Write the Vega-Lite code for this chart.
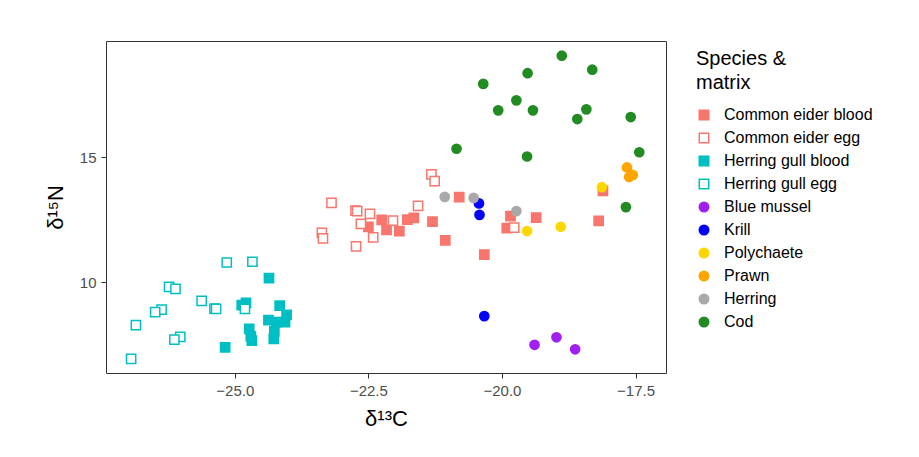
{
  "$schema": "https://vega.github.io/schema/vega-lite/v6.json",
  "width": 560,
  "height": 332,
  "autosize": "none",
  "padding": {"left": 106, "top": 41, "right": 253, "bottom": 84},
  "background": "white",
  "data": {
    "values": [
      {"group": "Common eider blood", "c": -20.80, "n": 13.41},
      {"group": "Common eider blood", "c": -21.30, "n": 12.43},
      {"group": "Common eider blood", "c": -21.06, "n": 11.68},
      {"group": "Common eider blood", "c": -20.33, "n": 11.11},
      {"group": "Common eider blood", "c": -19.84, "n": 12.65},
      {"group": "Common eider blood", "c": -19.91, "n": 12.17},
      {"group": "Common eider blood", "c": -19.36, "n": 12.59},
      {"group": "Common eider blood", "c": -18.11, "n": 13.66},
      {"group": "Common eider blood", "c": -18.19, "n": 12.46},
      {"group": "Common eider blood", "c": -22.25, "n": 12.50},
      {"group": "Common eider blood", "c": -22.50, "n": 12.22},
      {"group": "Common eider blood", "c": -22.16, "n": 12.10},
      {"group": "Common eider blood", "c": -21.92, "n": 12.05},
      {"group": "Common eider blood", "c": -21.77, "n": 12.51},
      {"group": "Common eider blood", "c": -21.65, "n": 12.58},
      {"group": "Common eider egg", "c": -21.32, "n": 14.32},
      {"group": "Common eider egg", "c": -21.26, "n": 14.05},
      {"group": "Common eider egg", "c": -23.19, "n": 13.18},
      {"group": "Common eider egg", "c": -22.74, "n": 12.87},
      {"group": "Common eider egg", "c": -22.71, "n": 12.85},
      {"group": "Common eider egg", "c": -22.47, "n": 12.74},
      {"group": "Common eider egg", "c": -22.64, "n": 12.34},
      {"group": "Common eider egg", "c": -22.41, "n": 11.80},
      {"group": "Common eider egg", "c": -22.73, "n": 11.44},
      {"group": "Common eider egg", "c": -23.37, "n": 11.98},
      {"group": "Common eider egg", "c": -23.35, "n": 11.76},
      {"group": "Common eider egg", "c": -22.04, "n": 12.47},
      {"group": "Common eider egg", "c": -21.57, "n": 13.06},
      {"group": "Common eider egg", "c": -19.77, "n": 12.19},
      {"group": "Herring gull blood", "c": -24.36, "n": 10.16},
      {"group": "Herring gull blood", "c": -24.87, "n": 9.08},
      {"group": "Herring gull blood", "c": -24.79, "n": 9.17},
      {"group": "Herring gull blood", "c": -24.16, "n": 9.06},
      {"group": "Herring gull blood", "c": -24.03, "n": 8.69},
      {"group": "Herring gull blood", "c": -24.37, "n": 8.48},
      {"group": "Herring gull blood", "c": -24.22, "n": 8.40},
      {"group": "Herring gull blood", "c": -24.06, "n": 8.40},
      {"group": "Herring gull blood", "c": -24.73, "n": 8.13},
      {"group": "Herring gull blood", "c": -24.70, "n": 7.83},
      {"group": "Herring gull blood", "c": -24.68, "n": 7.66},
      {"group": "Herring gull blood", "c": -24.26, "n": 8.03},
      {"group": "Herring gull blood", "c": -24.27, "n": 7.73},
      {"group": "Herring gull blood", "c": -25.18, "n": 7.39},
      {"group": "Herring gull egg", "c": -25.15, "n": 10.79},
      {"group": "Herring gull egg", "c": -24.67, "n": 10.82},
      {"group": "Herring gull egg", "c": -26.23, "n": 9.81},
      {"group": "Herring gull egg", "c": -26.11, "n": 9.73},
      {"group": "Herring gull egg", "c": -26.37, "n": 8.90},
      {"group": "Herring gull egg", "c": -26.49, "n": 8.80},
      {"group": "Herring gull egg", "c": -25.62, "n": 9.25},
      {"group": "Herring gull egg", "c": -25.38, "n": 8.94},
      {"group": "Herring gull egg", "c": -25.35, "n": 8.93},
      {"group": "Herring gull egg", "c": -24.81, "n": 8.93},
      {"group": "Herring gull egg", "c": -26.85, "n": 8.28},
      {"group": "Herring gull egg", "c": -26.02, "n": 7.81},
      {"group": "Herring gull egg", "c": -26.13, "n": 7.70},
      {"group": "Herring gull egg", "c": -26.94, "n": 6.93},
      {"group": "Blue mussel", "c": -19.39, "n": 7.49},
      {"group": "Blue mussel", "c": -18.98, "n": 7.79},
      {"group": "Blue mussel", "c": -18.63, "n": 7.31},
      {"group": "Krill", "c": -20.43, "n": 13.16},
      {"group": "Krill", "c": -20.42, "n": 12.70},
      {"group": "Krill", "c": -20.33, "n": 8.64},
      {"group": "Polychaete", "c": -19.53, "n": 12.05},
      {"group": "Polychaete", "c": -18.90, "n": 12.22},
      {"group": "Polychaete", "c": -18.13, "n": 13.81},
      {"group": "Prawn", "c": -17.66, "n": 14.60},
      {"group": "Prawn", "c": -17.62, "n": 14.22},
      {"group": "Prawn", "c": -17.55, "n": 14.30},
      {"group": "Herring", "c": -21.07, "n": 13.42},
      {"group": "Herring", "c": -20.53, "n": 13.38},
      {"group": "Herring", "c": -19.73, "n": 12.85},
      {"group": "Cod", "c": -18.88, "n": 19.08},
      {"group": "Cod", "c": -18.31, "n": 18.52},
      {"group": "Cod", "c": -19.52, "n": 18.38},
      {"group": "Cod", "c": -20.35, "n": 17.95},
      {"group": "Cod", "c": -19.73, "n": 17.29},
      {"group": "Cod", "c": -20.07, "n": 16.89},
      {"group": "Cod", "c": -19.42, "n": 16.89},
      {"group": "Cod", "c": -18.42, "n": 16.93},
      {"group": "Cod", "c": -18.59, "n": 16.54},
      {"group": "Cod", "c": -17.59, "n": 16.62},
      {"group": "Cod", "c": -20.85, "n": 15.35},
      {"group": "Cod", "c": -19.53, "n": 15.04},
      {"group": "Cod", "c": -17.43, "n": 15.21},
      {"group": "Cod", "c": -17.68, "n": 13.01}
    ]
  },
  "mark": {"type": "point", "size": 85, "strokeWidth": 1.5, "opacity": 1},
  "encoding": {
    "x": {
      "field": "c", "type": "quantitative", "title": "δ¹³C",
      "scale": {"domain": [-27.41, -16.93], "nice": false, "zero": false},
      "axis": {"values": [-25, -22.5, -20, -17.5], "format": ".1f"}
    },
    "y": {
      "field": "n", "type": "quantitative", "title": "δ¹⁵N",
      "scale": {"domain": [6.36, 19.67], "nice": false, "zero": false},
      "axis": {"values": [10, 15]}
    },
    "stroke": {
      "field": "group", "type": "nominal",
      "scale": {
        "domain": ["Common eider blood", "Common eider egg", "Herring gull blood", "Herring gull egg", "Blue mussel", "Krill", "Polychaete", "Prawn", "Herring", "Cod"],
        "range": ["#F8766D", "#F8766D", "#00BFC4", "#00BFC4", "#A020F0", "#0000FF", "#FFD700", "#FFA500", "#A9A9A9", "#228B22"]
      },
      "legend": {"title": ["Species &", " matrix"]}
    },
    "fill": {
      "field": "group", "type": "nominal",
      "scale": {
        "domain": ["Common eider blood", "Common eider egg", "Herring gull blood", "Herring gull egg", "Blue mussel", "Krill", "Polychaete", "Prawn", "Herring", "Cod"],
        "range": ["#F8766D", "#FFFFFF", "#00BFC4", "#FFFFFF", "#A020F0", "#0000FF", "#FFD700", "#FFA500", "#A9A9A9", "#228B22"]
      },
      "legend": {"title": ["Species &", " matrix"]}
    },
    "shape": {
      "field": "group", "type": "nominal",
      "scale": {
        "domain": ["Common eider blood", "Common eider egg", "Herring gull blood", "Herring gull egg", "Blue mussel", "Krill", "Polychaete", "Prawn", "Herring", "Cod"],
        "range": ["square", "square", "square", "square", "circle", "circle", "circle", "circle", "circle", "circle"]
      },
      "legend": {"title": ["Species &", " matrix"]}
    }
  },
  "config": {
    "font": "Liberation Sans",
    "view": {"stroke": "#333333", "strokeWidth": 1},
    "axis": {
      "grid": false, "domain": false, "tickColor": "#333333", "tickSize": 5,
      "labelColor": "#4d4d4d", "labelFontSize": 15, "titleFontSize": 22,
      "titleFontWeight": "normal", "titleColor": "black", "labelPadding": 5
    },
    "axisX": {"titlePadding": 10},
    "axisY": {"titlePadding": 12},
    "legend": {
      "titleFontSize": 20, "titleFontWeight": "normal", "titleColor": "black",
      "titleLineHeight": 24, "padding": 8,
      "labelFontSize": 16, "labelColor": "black", "symbolSize": 90,
      "symbolStrokeWidth": 1.5, "rowPadding": 7, "offset": 22, "titlePadding": 14,
      "labelOffset": 12
    }
  }
}
